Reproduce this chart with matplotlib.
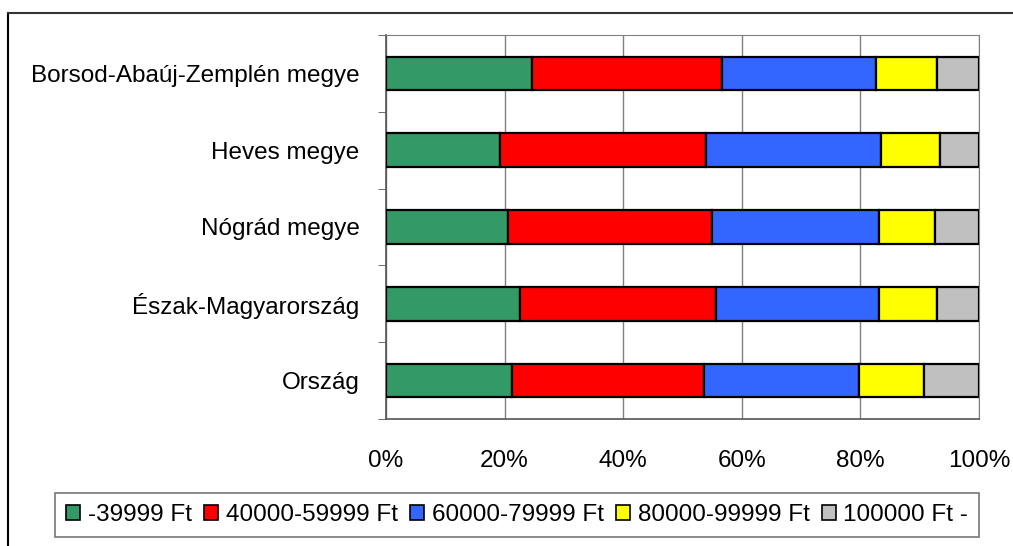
import numpy as np
import matplotlib
matplotlib.use("Agg")
import matplotlib.pyplot as plt

plt.rcParams['font.family'] = ['Liberation Sans', 'DejaVu Sans']

categories = ['Borsod-Abaúj-Zemplén megye', 'Heves megye', 'Nógrád megye',
              'Észak-Magyarország', 'Ország']
series_names = ['-39999 Ft', '40000-59999 Ft', '60000-79999 Ft',
                '80000-99999 Ft', '100000 Ft -']
s1 = [24.6, 19.2, 20.6, 22.6, 21.2]
s2 = [32.0, 34.8, 34.4, 33.0, 32.4]
s3 = [26.1, 29.4, 28.1, 27.5, 26.2]
s4 = [10.2, 10.1, 9.4, 9.8, 11.0]
s5 = [7.1, 6.5, 7.5, 7.1, 9.2]
colors = ['#339966', '#FF0000', '#3366FF', '#FFFF00', '#C0C0C0']

W, H = 1013, 546
fig = plt.figure(figsize=(W / 100, H / 100), dpi=100)
ax = fig.add_axes([386 / W, 1 - 419 / H, (979 - 386) / W, (419 - 35) / H])

# outer chart border (top and left visible)
fig.add_artist(plt.Line2D([8 / W, 8 / W], [0, 1 - 13 / H], transform=fig.transFigure,
                          color='black', lw=1.5))
fig.add_artist(plt.Line2D([8 / W, 1.0], [1 - 13 / H, 1 - 13 / H], transform=fig.transFigure,
                          color='#333333', lw=1.5))

y = np.arange(len(categories))
data = [s1, s2, s3, s4, s5]
left = np.zeros(len(categories))
for vals, c, name in zip(data, colors, series_names):
    ax.barh(y, vals, left=left, height=0.44, color=c, edgecolor='black',
            linewidth=1.6, label=name, zorder=3)
    left += np.array(vals)

fs = 17.5
ax.set_xlim(0, 100)
ax.set_ylim(4.5, -0.5)
ax.set_xticks([0, 20, 40, 60, 80, 100])
ax.set_xticklabels(['0%', '20%', '40%', '60%', '80%', '100%'], fontsize=fs)
ax.set_yticks(y)
ax.set_yticklabels(categories, fontsize=fs)
ax.tick_params(axis='y', length=0, pad=19)
ax.tick_params(axis='x', length=0, pad=22)
# minor ticks between categories
ax.set_yticks(np.arange(-0.5, 5, 1), minor=True)
ax.tick_params(axis='y', which='minor', length=6, color='#555555', direction='out')
ax.xaxis.grid(True, color='#808080', lw=1, zorder=0)
for s in ['top', 'right']:
    ax.spines[s].set_color('#808080')
for s in ['left', 'bottom']:
    ax.spines[s].set_color('#555555')
    ax.spines[s].set_linewidth(1.2)

leg = fig.legend(loc='center', bbox_to_anchor=(517 / W, 1 - 515 / H), ncol=5,
                 fontsize=fs, frameon=True, fancybox=False, edgecolor='#555555',
                 handlelength=0.6, handleheight=0.6, handletextpad=0.3,
                 columnspacing=0.5, borderpad=0.45)
leg.get_frame().set_linewidth(1.2)
for h in leg.legend_handles:
    h.set_linewidth(1.2)

fig.savefig('out.png', dpi=100)
